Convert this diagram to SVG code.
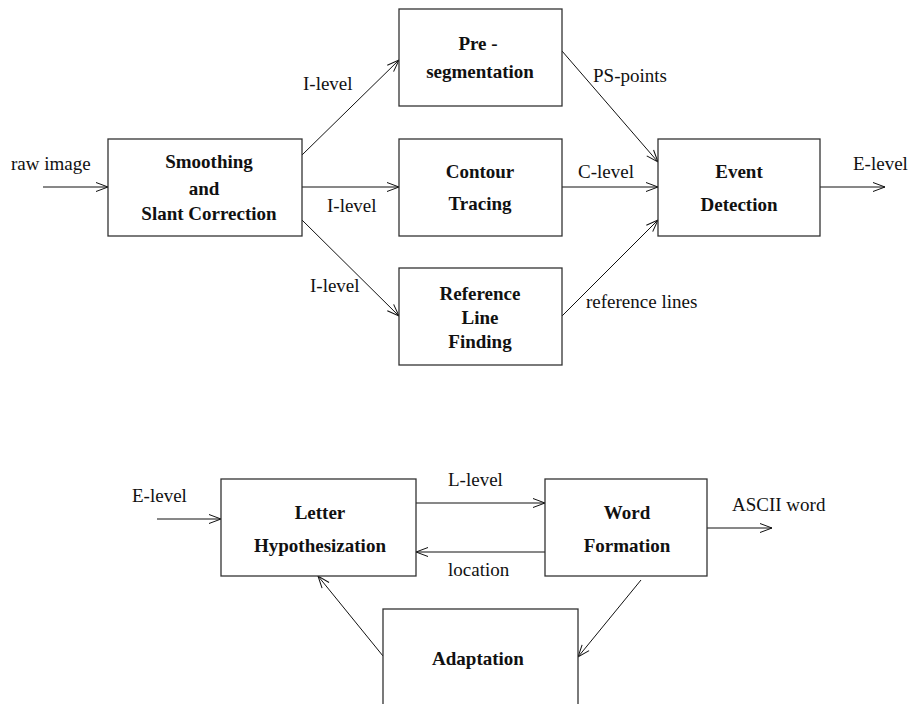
<svg xmlns="http://www.w3.org/2000/svg" width="911" height="704" viewBox="0 0 911 704">
  <style>
    .box { fill: #fff; stroke: #333; stroke-width: 1.3; }
    .edge { fill: none; stroke: #111; stroke-width: 1; marker-end: url(#arrow); }
    .title { font-family: "Liberation Serif", "Times New Roman", serif; font-size: 19px; font-weight: bold; fill: #111; text-anchor: middle; }
    .label { font-family: "Liberation Serif", "Times New Roman", serif; font-size: 19px; fill: #111; }
  </style>
  <defs>
    <!-- open V-shaped arrowhead -->
    <marker id="arrow" markerUnits="userSpaceOnUse" markerWidth="14" markerHeight="12" refX="12" refY="5" orient="auto" overflow="visible">
      <path d="M0,0.5 L12,5 L0,9.5" fill="none" stroke="#111" stroke-width="1"/>
    </marker>
  </defs>
  <rect width="911" height="704" fill="#fff"/>

  <!-- Connectors -->
  <g id="connectors">
    <line class="edge" x1="43" y1="187" x2="108" y2="187"/>
    <line class="edge" x1="302" y1="155" x2="399" y2="60"/>
    <line class="edge" x1="302" y1="187" x2="399" y2="187"/>
    <line class="edge" x1="302" y1="220" x2="399" y2="316"/>
    <line class="edge" x1="562" y1="51" x2="658" y2="162"/>
    <line class="edge" x1="562" y1="187" x2="658" y2="187"/>
    <line class="edge" x1="562" y1="316" x2="658" y2="220"/>
    <line class="edge" x1="820" y1="187" x2="885" y2="187"/>

    <line class="edge" x1="157" y1="519" x2="221" y2="519"/>
    <line class="edge" x1="416" y1="503" x2="545" y2="503"/>
    <line class="edge" x1="545" y1="552" x2="416" y2="552"/>
    <line class="edge" x1="707" y1="528" x2="772" y2="528"/>
    <line class="edge" x1="641" y1="580" x2="578" y2="657"/>
    <line class="edge" x1="383" y1="656" x2="318" y2="576"/>

    <text class="label" x="11" y="170">raw image</text>
    <text class="label" x="303" y="90">I-level</text>
    <text class="label" x="327" y="212">I-level</text>
    <text class="label" x="310" y="292">I-level</text>
    <text class="label" x="593" y="82">PS-points</text>
    <text class="label" x="578" y="178">C-level</text>
    <text class="label" x="586" y="308">reference lines</text>
    <text class="label" x="853" y="170">E-level</text>

    <text class="label" x="132" y="502">E-level</text>
    <text class="label" x="448" y="486">L-level</text>
    <text class="label" x="448" y="576">location</text>
    <text class="label" x="732" y="511">ASCII word</text>
  </g>

  <!-- Nodes -->
  <g id="smoothing">
    <rect class="box" x="108" y="139" width="194" height="97"/>
    <text class="title" x="209" y="168">Smoothing</text>
    <text class="title" x="204" y="195">and</text>
    <text class="title" x="209" y="220">Slant Correction</text>
  </g>
  <g id="presegmentation">
    <rect class="box" x="399" y="9" width="163" height="97"/>
    <text class="title" x="478" y="50">Pre -</text>
    <text class="title" x="480" y="78">segmentation</text>
  </g>
  <g id="contour">
    <rect class="box" x="399" y="139" width="163" height="97"/>
    <text class="title" x="480" y="178">Contour</text>
    <text class="title" x="480" y="210">Tracing</text>
  </g>
  <g id="reference">
    <rect class="box" x="399" y="268" width="163" height="97"/>
    <text class="title" x="480" y="300">Reference</text>
    <text class="title" x="480" y="324">Line</text>
    <text class="title" x="480" y="348">Finding</text>
  </g>
  <g id="event">
    <rect class="box" x="658" y="139" width="162" height="97"/>
    <text class="title" x="739" y="178">Event</text>
    <text class="title" x="739" y="211">Detection</text>
  </g>

  <g id="letter">
    <rect class="box" x="221" y="479" width="195" height="97"/>
    <text class="title" x="320" y="519">Letter</text>
    <text class="title" x="320" y="552">Hypothesization</text>
  </g>
  <g id="word">
    <rect class="box" x="545" y="479" width="162" height="97"/>
    <text class="title" x="627" y="519">Word</text>
    <text class="title" x="627" y="552">Formation</text>
  </g>
  <g id="adaptation">
    <rect class="box" x="383" y="609" width="195" height="110"/>
    <text class="title" x="478" y="665">Adaptation</text>
  </g>
</svg>
